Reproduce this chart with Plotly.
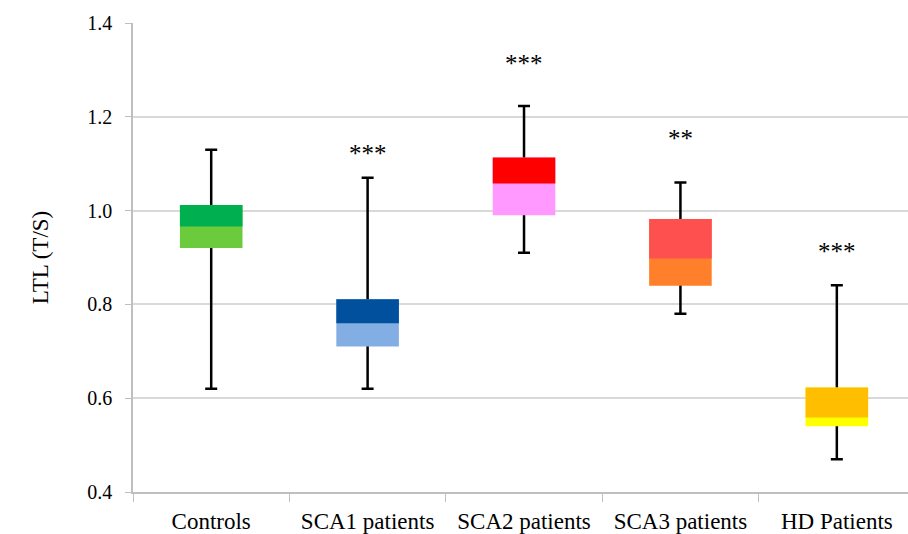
import plotly.graph_objects as go

categories = ["Controls", "SCA1 patients", "SCA2 patients", "SCA3 patients", "HD Patients"]
lower_whisker = [0.62, 0.62, 0.91, 0.78, 0.47]
q1 = [0.92, 0.71, 0.99, 0.84, 0.54]
median = [0.966, 0.76, 1.058, 0.898, 0.559]
q3 = [1.012, 0.811, 1.113, 0.982, 0.623]
upper_whisker = [1.13, 1.07, 1.223, 1.06, 0.841]
significance = ["", "***", "***", "**", "***"]

lower_colors = ["#6CCB3D", "#82AEE3", "#FF99FF", "#FF7F2A", "#FFFF00"]
upper_colors = ["#00B050", "#00509E", "#FF0000", "#FF5050", "#FFBF00"]
star_y = [None, 1.121, 1.313, 1.153, 0.912]

SERIF = "Liberation Serif, Times New Roman, Times, serif"

fig = go.Figure()

# whiskers (hidden bar carrying error bars, drawn under the boxes)
fig.add_trace(go.Bar(
    x=categories, y=median,
    marker=dict(color="rgba(0,0,0,0)", line=dict(width=0)),
    error_y=dict(type="data", symmetric=False,
                 array=[u - m for u, m in zip(upper_whisker, median)],
                 arrayminus=[m - l for m, l in zip(median, lower_whisker)],
                 color="black", thickness=2.5, width=6),
    width=0.4, hoverinfo="skip", showlegend=False,
))
# full box (lower colour), q1 -> q3
fig.add_trace(go.Bar(
    x=categories, y=[b - a for b, a in zip(q3, q1)], base=q1,
    marker=dict(color=lower_colors, line=dict(width=0)),
    width=0.4, showlegend=False,
))
# upper half of box, median -> q3
fig.add_trace(go.Bar(
    x=categories, y=[b - m for b, m in zip(q3, median)], base=median,
    marker=dict(color=upper_colors, line=dict(width=0)),
    width=0.4, showlegend=False,
))

for cat, s, yy in zip(categories, significance, star_y):
    if s:
        fig.add_annotation(x=cat, y=yy, text=s, showarrow=False,
                           font=dict(family=SERIF, size=25, color="black"),
                           yanchor="middle")

fig.update_layout(
    width=908, height=534,
    barmode="overlay",
    plot_bgcolor="white", paper_bgcolor="white",
    margin=dict(l=133, r=0, t=23, b=42),
    font=dict(family=SERIF, size=20, color="black"),
    xaxis=dict(
        range=[-0.5, 4.455], showgrid=False,
        showline=True, linecolor="#BFBFBF", linewidth=1.5,
        ticks="outside", tickson="boundaries", ticklen=8, tickcolor="#BFBFBF",
        tickfont=dict(family=SERIF, size=23), ticklabelstandoff=8,
        automargin=False,
    ),
    yaxis=dict(
        range=[0.4, 1.4], dtick=0.2, tickformat=".1f",
        showgrid=True, gridcolor="#D9D9D9", gridwidth=1.5,
        showline=True, linecolor="#BFBFBF", linewidth=1.5,
        ticks="outside", ticklen=6, tickcolor="#BFBFBF",
        tickfont=dict(family=SERIF, size=20), ticklabelstandoff=9,
        zeroline=False, automargin=False,
        title=dict(text="LTL (T/S)", font=dict(family=SERIF, size=23), standoff=32),
    ),
)

fig.write_html("out.html", config={"displayModeBar": False},
               post_script="document.body.style.margin='0';")
